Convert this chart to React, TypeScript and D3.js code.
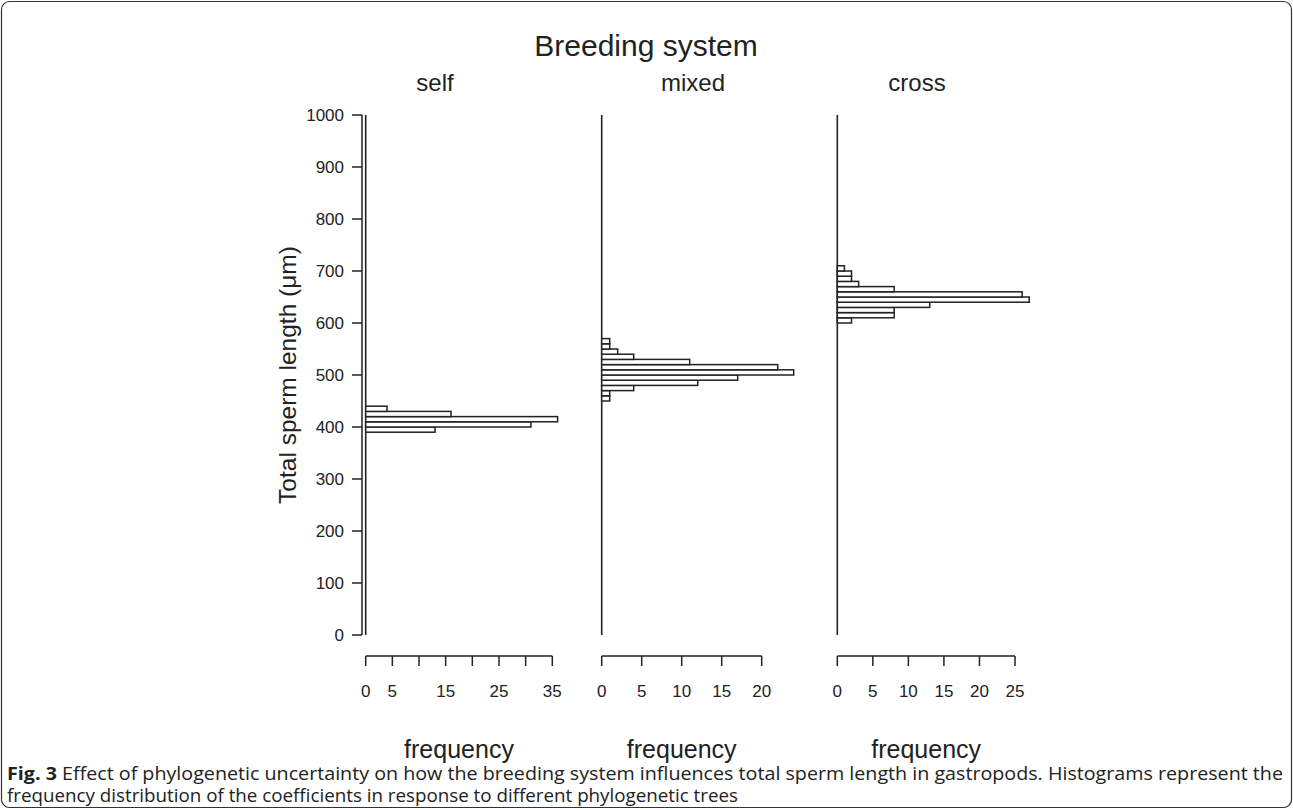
import { useEffect, useRef } from 'react';
import * as d3 from 'd3';

// histogram counts, bins of width 10, listed from the lowest bin upward
const panels = ['self', 'mixed', 'cross'];
const selfStart = 390;
const selfCounts = [13, 31, 36, 16, 4];
const mixedStart = 450;
const mixedCounts = [1, 1, 4, 12, 17, 24, 22, 11, 4, 2, 1, 1];
const crossStart = 600;
const crossCounts = [2, 8, 8, 13, 27, 26, 8, 3, 2, 2, 1];

const yTicks = [0, 100, 200, 300, 400, 500, 600, 700, 800, 900, 1000];
const selfTicks = [0, 5, 10, 15, 20, 25, 30, 35];
const selfLabels = [0, 5, 15, 25, 35];
const mixedTicks = [0, 5, 10, 15, 20];
const crossTicks = [0, 5, 10, 15, 20, 25];

const binWidth = 10;
const W = 1293;
const H = 810;
const FONT = 'Liberation Sans, Arial, sans-serif';
const INK = '#222';

export default function App() {
  const svgRef = useRef<SVGSVGElement>(null);

  useEffect(() => {
    if (!svgRef.current) return;
    const svg = d3.select(svgRef.current);
    svg.selectAll('*').remove();

    // frame round figure and caption
    svg.append('rect')
      .attr('x', 1.5).attr('y', 1.5)
      .attr('width', W - 3).attr('height', H - 4)
      .attr('rx', 8)
      .attr('fill', 'none')
      .attr('stroke', '#333')
      .attr('stroke-width', 1.2);

    const y = d3.scaleLinear().domain([0, 1000]).range([635, 115]);

    // y axis
    const yAxis = svg.append('g');
    yAxis.append('line')
      .attr('x1', 362).attr('x2', 362)
      .attr('y1', y(0)).attr('y2', y(1000))
      .attr('stroke', INK).attr('stroke-width', 1.5);
    yTicks.forEach(t => {
      yAxis.append('line')
        .attr('x1', 352).attr('x2', 362)
        .attr('y1', y(t)).attr('y2', y(t))
        .attr('stroke', INK).attr('stroke-width', 1.5);
      yAxis.append('text')
        .attr('x', 344).attr('y', y(t))
        .attr('dy', '0.35em')
        .attr('text-anchor', 'end')
        .attr('font-size', 17)
        .attr('font-family', FONT)
        .attr('fill', INK)
        .text(t);
    });

    svg.append('text')
      .attr('transform', `translate(287, ${y(500)}) rotate(-90)`)
      .attr('text-anchor', 'middle')
      .attr('dy', '0.35em')
      .attr('font-size', 24.5)
      .attr('font-family', FONT)
      .attr('fill', INK)
      .text('Total sperm length (\u03bcm)');

    svg.append('text')
      .attr('x', 646).attr('y', 56)
      .attr('text-anchor', 'middle')
      .attr('font-size', 30)
      .attr('font-family', FONT)
      .attr('fill', INK)
      .text('Breeding system');

    const configs = [
      { name: panels[0], start: selfStart, counts: selfCounts, max: 35, range: [365.7, 552.3], ticks: selfTicks, labels: selfLabels },
      { name: panels[1], start: mixedStart, counts: mixedCounts, max: 20, range: [601.7, 761.7], ticks: mixedTicks, labels: mixedTicks },
      { name: panels[2], start: crossStart, counts: crossCounts, max: 25, range: [837.3, 1015], ticks: crossTicks, labels: crossTicks },
    ];

    const axisY = 656;
    configs.forEach(c => {
      const x = d3.scaleLinear().domain([0, c.max]).range(c.range);
      const g = svg.append('g');

      // panel title
      g.append('text')
        .attr('x', [435, 693, 917][panels.indexOf(c.name)])
        .attr('y', 91)
        .attr('text-anchor', 'middle')
        .attr('font-size', 24)
        .attr('font-family', FONT)
        .attr('fill', INK)
        .text(c.name);

      // baseline of empty bins
      g.append('line')
        .attr('x1', x(0)).attr('x2', x(0))
        .attr('y1', y(0)).attr('y2', y(1000))
        .attr('stroke', INK).attr('stroke-width', 1.6);

      c.counts.forEach((n, i) => {
        const lo = c.start + i * binWidth;
        g.append('rect')
          .attr('x', x(0))
          .attr('y', y(lo + binWidth))
          .attr('width', x(n) - x(0))
          .attr('height', y(lo) - y(lo + binWidth))
          .attr('fill', '#fff')
          .attr('stroke', INK)
          .attr('stroke-width', 1.5);
      });

      // x axis
      g.append('line')
        .attr('x1', x(c.ticks[0])).attr('x2', x(c.ticks[c.ticks.length - 1]))
        .attr('y1', axisY).attr('y2', axisY)
        .attr('stroke', INK).attr('stroke-width', 1.5);
      c.ticks.forEach(t => {
        g.append('line')
          .attr('x1', x(t)).attr('x2', x(t))
          .attr('y1', axisY).attr('y2', axisY + 10)
          .attr('stroke', INK).attr('stroke-width', 1.5);
      });
      c.labels.forEach(t => {
        g.append('text')
          .attr('x', x(t)).attr('y', 697)
          .attr('text-anchor', 'middle')
          .attr('font-size', 17)
          .attr('font-family', FONT)
          .attr('fill', INK)
          .text(t);
      });
      g.append('text')
        .attr('x', (c.range[0] + c.range[1]) / 2)
        .attr('y', 758)
        .attr('text-anchor', 'middle')
        .attr('font-size', 25)
        .attr('font-family', FONT)
        .attr('fill', INK)
        .text('frequency');
    });

    // caption
    const cap1 = svg.append('text')
      .attr('x', 7).attr('y', 780)
      .attr('font-size', 18)
      .attr('font-family', 'Open Sans, sans-serif')
      .attr('fill', INK)
      .attr('textLength', 1276)
      .attr('lengthAdjust', 'spacingAndGlyphs');
    cap1.append('tspan').attr('font-weight', 'bold').text('Fig. 3');
    cap1.append('tspan').text(' Effect of phylogenetic uncertainty on how the breeding system influences total sperm length in gastropods. Histograms represent the');
    svg.append('text')
      .attr('x', 7).attr('y', 802)
      .attr('font-size', 18)
      .attr('font-family', 'Open Sans, sans-serif')
      .attr('fill', INK)
      .attr('textLength', 731)
      .attr('lengthAdjust', 'spacingAndGlyphs')
      .text('frequency distribution of the coefficients in response to different phylogenetic trees');
  }, []);

  return (
    <svg
      ref={svgRef}
      width={W}
      height={H}
      viewBox={`0 0 ${W} ${H}`}
      style={{ position: 'absolute', left: 0, top: 0, background: '#fff' }}
    />
  );
}
